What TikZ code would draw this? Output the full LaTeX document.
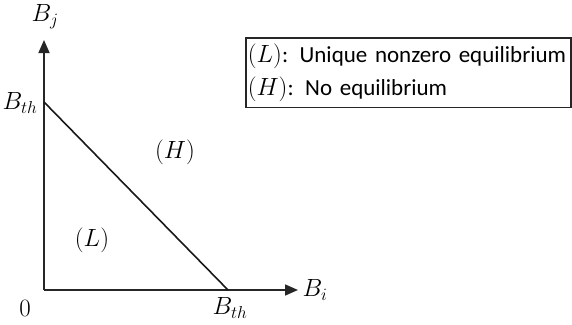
\documentclass[tikz,border=0pt]{standalone}
\usepackage{fontspec}
\setsansfont{Carlito}
\usetikzlibrary{arrows.meta}
\begin{document}
\begin{tikzpicture}[x=1pt,y=-1pt,
  axis/.style={line width=1.6pt,draw=black!85,-{Triangle[length=13pt,width=11pt]}},
  lbl/.style={font=\fontsize{26}{30}\selectfont,inner sep=0pt},
  legend/.style={draw=black!85,line width=1.6pt,font=\sffamily\fontsize{23}{33}\selectfont,align=left,inner xsep=2pt,inner ysep=6pt,text width=321pt,anchor=north west}]
\useasboundingbox (0,0) rectangle (572,324);
\coordinate (O) at (44,290);
\coordinate (Ytop) at (44,40);
\coordinate (Xend) at (298,290);
\coordinate (A) at (44,102);
\coordinate (B) at (228,290);
\draw[axis] (O) -- (Ytop);
\draw[axis] (O) -- (Xend);
\draw[line width=1.6pt,black!90] (A) -- (B);
\node[lbl] (bj) at (45,17) {$B_j$};
\node[lbl] (bi) at (315,290) {$B_i$};
\node[lbl] (bth1) at (20,103) {$B_{th}$};
\node[lbl] (bth2) at (230,308) {$B_{th}$};
\node[lbl] (zero) at (25,308) {$0$};
\node[lbl] (H) at (175,152) {$(H)$};
\node[lbl] (L) at (92,240) {$(L)$};
\node[legend] (leg) at (245,37) {\hyphenpenalty=10000 $(L)$: Unique nonzero equilibrium\\$(H)$: No equilibrium};
\end{tikzpicture}
\end{document}
